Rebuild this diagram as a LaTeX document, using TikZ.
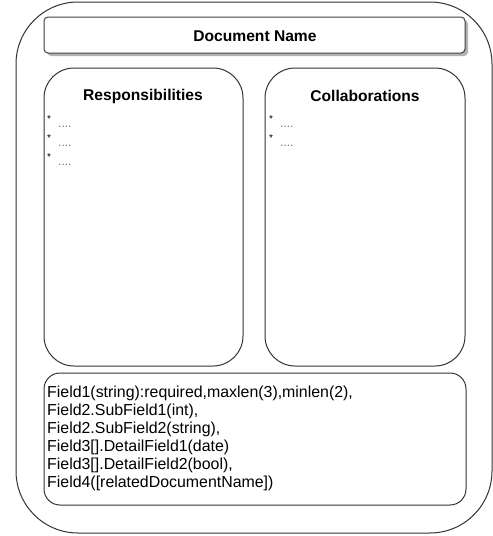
\documentclass[tikz,border=0pt]{standalone}
\usepackage{fontspec}
\setmainfont{Liberation Sans}
\usetikzlibrary{calc, positioning}

\tikzset{
  card/.style={draw=black!80, line width=1pt, fill=white},
  heading/.style={font=\fontsize{15.6}{18}\selectfont\bfseries},
  star/.style={font=\fontsize{10}{10}\selectfont, inner sep=0pt},
  dots/.style={font=\fontsize{12}{12}\selectfont, text=black!55, inner sep=0pt},
  fieldtext/.style={font=\fontsize{15.9}{18}\selectfont, align=left, inner sep=0pt}
}

\begin{document}
\begin{tikzpicture}[x=1pt, y=-1pt]
\useasboundingbox (0,0) rectangle (493,536);
\def\outr{62}
\def\boxr{30}
% outer card
\draw[card, rounded corners=\outr] (16,2) rectangle (492,533);
% document name bar with shadow
\fill[black!30, rounded corners=4] (47,20) rectangle (468,56);
\draw[card, draw=black!75, rounded corners=4] (44,17) rectangle (465,53);
\node[heading] (docname) at (255,36) {Document Name};
% the two columns
\draw[card, rounded corners=\boxr] (44,68) rectangle (243,366);
\draw[card, rounded corners=\boxr] (265,68) rectangle (465,366);
\node[heading] (resp) at (143,96) {Responsibilities};
\node[heading] (collab) at (365,96) {Collaborations};
\node[star, anchor=north west] (r1) at (47,115) {*};
\node[dots, anchor=west] (r1d) at (58,127) {....};
\node[star, anchor=north west] (r2) at (47,134) {*};
\node[dots, anchor=west] (r2d) at (58,146) {....};
\node[star, anchor=north west] (r3) at (47,153) {*};
\node[dots, anchor=west] (r3d) at (58,165) {....};
\node[star, anchor=north west] (c1) at (269,115) {*};
\node[dots, anchor=west] (c1d) at (280,127) {....};
\node[star, anchor=north west] (c2) at (269,134) {*};
\node[dots, anchor=west] (c2d) at (280,146) {....};
% fields
\draw[card, rounded corners=16] (44,373) rectangle (466,505);
\node[fieldtext, anchor=north west] (fields) at (47,386) {Field1(string):required,maxlen(3),minlen(2),\\
Field2.SubField1(int),\\
Field2.SubField2(string),\\
Field3[].DetailField1(date)\\
Field3[].DetailField2(bool),\\
Field4([relatedDocumentName])};
\end{tikzpicture}
\end{document}
